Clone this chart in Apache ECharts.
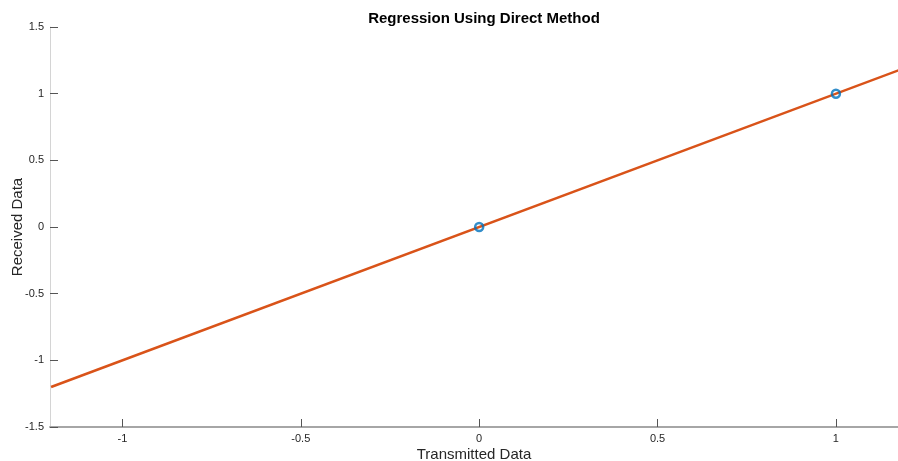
<!DOCTYPE html>
<html>
<head>
<meta charset="utf-8">
<script src="https://cdn.jsdelivr.net/npm/echarts@6/dist/echarts.min.js"></script>
<style>html,body{margin:0;padding:0;background:#fff}#c{width:898px;height:461px}</style>
</head>
<body>
<div id="c"></div>
<script>
const titleText = 'Regression Using Direct Method';
const xName = 'Transmitted Data';
const yName = 'Received Data';
const lineX = [-1.2, 1.2];
const lineY = [-1.2, 1.2];
const pointsX = [0, 1];
const pointsY = [0, 1];
const xTicks = [-1, -0.5, 0, 0.5, 1];
const yTicks = [-1.5, -1, -0.5, 0, 0.5, 1, 1.5];

const chart = echarts.init(document.getElementById('c'), null, {renderer: 'canvas'});
const font = 'Liberation Sans, Arial, sans-serif';
chart.setOption({
  animation: false,
  title: {
    text: titleText, left: 479, top: 6, textAlign: 'center',
    textStyle: {fontFamily: font, fontSize: 15, fontWeight: 'bold', color: '#000'}
  },
  grid: {left: 50, right: 0, top: 27, bottom: 34, containLabel: false, outerBoundsMode: 'none'},
  xAxis: {
    type: 'value', min: -1.203, max: 1.174,
    name: xName, nameLocation: 'middle', nameGap: 20, nameMoveOverlap: false,
    nameTextStyle: {fontFamily: font, fontSize: 15, color: '#262626'},
    axisLine: {show: true, onZero: false, lineStyle: {color: '#a6a6a6', width: 2}},
    axisTick: {show: true, inside: true, length: 8, customValues: xTicks, lineStyle: {color: '#555'}},
    axisLabel: {customValues: xTicks, fontFamily: font, fontSize: 11, color: '#262626', margin: 6,
      formatter: v => String(v)},
    splitLine: {show: false}
  },
  yAxis: {
    type: 'value', min: -1.5, max: 1.5, interval: 0.5,
    name: yName, nameLocation: 'middle', nameGap: 25, nameRotate: 90, nameMoveOverlap: false,
    nameTextStyle: {fontFamily: font, fontSize: 15, color: '#262626'},
    axisLine: {show: true, onZero: false, lineStyle: {color: '#d4d4d4', width: 1}},
    axisTick: {show: true, inside: true, length: 8, lineStyle: {color: '#555'}},
    axisLabel: {fontFamily: font, fontSize: 11, color: '#262626', margin: 6,
      formatter: v => String(v)},
    splitLine: {show: false}
  },
  series: [
    {
      type: 'line', data: lineX.map((x, i) => [x, lineY[i]]),
      showSymbol: false, clip: true,
      lineStyle: {color: '#D95319', width: 2.5}, z: 2
    },
    {
      type: 'scatter', data: pointsX.map((x, i) => [x, pointsY[i]]),
      symbol: 'circle', symbolSize: 8,
      itemStyle: {color: 'rgba(0,0,0,0)', borderColor: '#0072BD', borderWidth: 2.5}, z: 3
    }
  ]
});
</script>
</body>
</html>
